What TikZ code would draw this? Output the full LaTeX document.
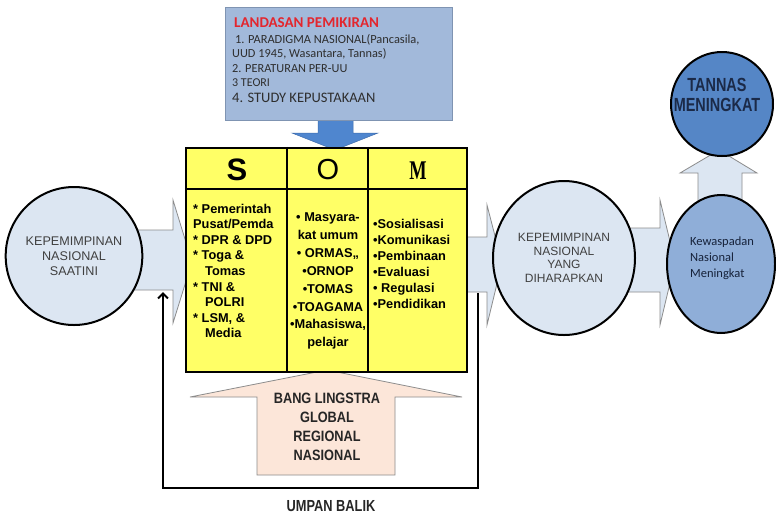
\documentclass[tikz,border=0pt]{standalone}
\usepackage{fontspec}
\usepackage{graphicx}
\setmainfont{Liberation Sans}
\newfontfamily\carl{Carlito}
\newfontfamily\narA[FakeStretch=0.76]{Liberation Sans}
\newfontfamily\narB[FakeStretch=0.85]{Liberation Sans}
\newfontfamily\narC[FakeStretch=0.80]{Liberation Sans}
\newfontfamily\narM[FakeStretch=0.68]{Liberation Serif}
\usetikzlibrary{shapes.geometric,arrows.meta}
\definecolor{boxblue}{HTML}{A2B9DA}
\definecolor{boxedge}{HTML}{7F94B2}
\definecolor{arrblue}{HTML}{4F86CF}
\definecolor{arrblueedge}{HTML}{3E6DAE}
\definecolor{somyel}{HTML}{FFFF66}
\definecolor{paleblue}{HTML}{DCE6F2}
\definecolor{arrowedge}{HTML}{8C8C8C}
\definecolor{midblue}{HTML}{8FAED8}
\definecolor{deepblue}{HTML}{5586C6}
\definecolor{peach}{HTML}{FCE6D9}
\definecolor{navy}{HTML}{1B2A48}
\definecolor{redt}{HTML}{E3262E}
\definecolor{graytext}{HTML}{404040}
\definecolor{boxtext}{HTML}{2E2E2E}
\tikzset{
  blockarrow/.style={fill=paleblue, draw=arrowedge, line width=0.8pt, line join=miter},
  circ/.style={ellipse, draw=black, line width=2pt, inner sep=0pt, align=center},
  boxline/.style={anchor=base west, inner sep=0pt, text=boxtext},
  sl/.style={anchor=base west, inner sep=0pt, font=\fontsize{12.8}{15}\selectfont\bfseries},
  ol/.style={anchor=base, inner sep=0pt, font=\fontsize{12.8}{15}\selectfont\bfseries},
  hdr/.style={inner sep=0pt},
}
\begin{document}
\begin{tikzpicture}[x=1pt,y=-1pt]
\path[use as bounding box, fill=white] (0,0) rectangle (776,515);

% block arrows
\path[blockarrow] (130,230) -- (173,230) -- (173,200) -- (192,262) -- (173,323) -- (173,290) -- (130,290) -- cycle;
\path[blockarrow] (460,237) -- (487,237) -- (487,205) -- (502,263) -- (487,325) -- (487,292) -- (460,292) -- cycle;
\path[blockarrow] (620,228) -- (660,228) -- (660,200) -- (675,262) -- (660,325) -- (660,292) -- (620,292) -- cycle;
\path[blockarrow] (698,205) -- (698,173) -- (680,173) -- (719,150) -- (757,173) -- (742,173) -- (742,205) -- cycle;
\path[fill=arrblue, draw=arrblueedge, line width=0.5pt] (318,118) -- (353,118) -- (353,133) -- (378,133) -- (335,150) -- (292,133) -- (318,133) -- cycle;
\path[fill=peach, draw=arrowedge, line width=0.8pt] (257,475) -- (257,397) -- (190,397) -- (327,370) -- (462,397) -- (395,397) -- (395,475) -- cycle;

% top box
\node[draw=boxedge, fill=boxblue, line width=1pt, minimum width=227pt, minimum height=113pt, inner sep=0pt] (landasan) at (338.5,63.5) {};
\node[boxline, text=redt, font=\carl\bfseries\fontsize{15}{18}\selectfont] (t0) at (234,27) {LANDASAN PEMIKIRAN};
\node[boxline, font=\carl\fontsize{12.4}{15}\selectfont] (t1) at (232,43) {\ 1. PARADIGMA NASIONAL(Pancasila,};
\node[boxline, font=\carl\fontsize{12.3}{15}\selectfont] (t2) at (232,57.5) {UUD 1945, Wasantara, Tannas)};
\node[boxline, font=\carl\fontsize{12.3}{15}\selectfont] (t3) at (232,72) {2. PERATURAN PER-UU};
\node[boxline, font=\carl\fontsize{12}{15}\selectfont] (t4) at (232,86) {3 TEORI};
\node[boxline, font=\carl\fontsize{14.5}{17}\selectfont] (t5) at (232,102) {4. STUDY KEPUSTAKAAN};

% SOM table
\node[draw=black, fill=somyel, line width=2.5pt, minimum width=281pt, minimum height=224pt, inner sep=0pt] (som) at (326.5,260) {};
\draw[line width=2pt] (som.west |- 0,189) -- (som.east |- 0,189);
\draw[line width=2pt] (287,0 |- som.north) -- (287,0 |- som.south);
\draw[line width=2pt] (368,0 |- som.north) -- (368,0 |- som.south);
\node[hdr, font=\bfseries\fontsize{31}{31}\selectfont] (hs) at (237,170) {S};
\node[hdr, font=\fontsize{29}{29}\selectfont] (ho) at (328,170) {O};
\node[hdr, font=\narM\bfseries\fontsize{27}{27}\selectfont] (hm) at (418,171) {M};

\node[sl] (s1) at (193,213) {* Pemerintah};
\node[sl] (s2) at (193,228.6) {Pusat/Pemda};
\node[sl] (s3) at (193,244.2) {* DPR \& DPD};
\node[sl] (s4) at (193,259.8) {* Toga \&};
\node[sl] (s5) at (205,275.4) {Tomas};
\node[sl] (s6) at (193,291) {* TNI \&};
\node[sl] (s7) at (205,306.6) {POLRI};
\node[sl] (s8) at (193,322.2) {* LSM, \&};
\node[sl] (s9) at (205,337.8) {Media};

\node[ol] (o1) at (328,221.5) {• Masyara-};
\node[ol] (o2) at (328,239.4) {kat umum};
\node[ol] (o3) at (328,257.3) {• ORMAS,,};
\node[ol] (o4) at (328,275.2) {•ORNOP};
\node[ol] (o5) at (328,293.1) {•TOMAS};
\node[ol] (o6) at (328,311) {•TOAGAMA};
\node[ol] (o7) at (328,328.9) {•Mahasiswa,};
\node[ol] (o8) at (328,346.8) {pelajar};

\node[sl] (m1) at (373,228.5) {•Sosialisasi};
\node[sl] (m2) at (373,244.5) {•Komunikasi};
\node[sl] (m3) at (373,260.5) {•Pembinaan};
\node[sl] (m4) at (373,276.5) {•Evaluasi};
\node[sl] (m5) at (373,292.5) {• Regulasi};
\node[sl] (m6) at (373,308.5) {•Pendidikan};

% circles
\node[circ, fill=paleblue, minimum width=134pt, minimum height=138pt, text=graytext, font=\fontsize{12.6}{15}\selectfont] (lcirc) at (74,256) {KEPEMIMPINAN\\NASIONAL\\SAATINI};
\node[circ, fill=paleblue, minimum width=142pt, minimum height=154pt, text=graytext, font=\fontsize{12}{13.7}\selectfont] (mcirc) at (564,258) {KEPEMIMPINAN\\NASIONAL\\YANG\\DIHARAPKAN};
\node[circ, fill=midblue, minimum width=108pt, minimum height=138pt] (rcirc) at (721,264) {};
\node[inner sep=0pt, align=left, text=navy!80!black, font=\carl\fontsize{12.5}{16}\selectfont] (rtext) at (722,258) {Kewaspadan\\Nasional\\Meningkat};
\node[circ, fill=deepblue, minimum width=102pt, minimum height=104pt] (tcirc) at (722,104) {};
\node[inner sep=0pt, align=center, text=navy, font=\narA\bfseries\fontsize{19}{20}\selectfont] (ttext) at (717,95) {TANNAS\\MENINGKAT};

% bottom arrow text
\node[inner sep=0pt, align=center, text=black!85, font=\narB\bfseries\fontsize{15}{19}\selectfont] (bang) at (327,427) {BANG LINGSTRA\\GLOBAL\\REGIONAL\\NASIONAL};

% feedback
\coordinate (fbstart) at (478,293);
\coordinate (fbc1) at (478,488);
\coordinate (fbc2) at (163,488);
\coordinate (fbend) at (163,292);
\draw[line width=2pt, -{Straight Barb[length=5pt,width=10pt]}] (fbstart) -- (fbc1) -- (fbc2) -- (fbend);
\node[inner sep=0pt, font=\narC\bfseries\fontsize{16}{16}\selectfont, text=black!85] (umpan) at (331,506) {UMPAN BALIK};
\end{tikzpicture}
\end{document}
